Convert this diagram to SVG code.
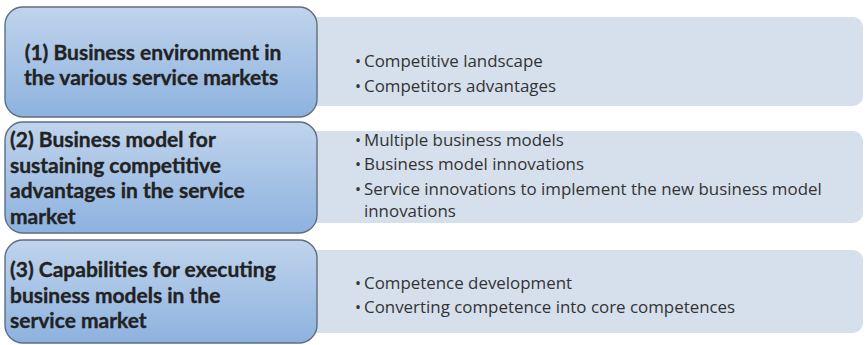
<svg xmlns="http://www.w3.org/2000/svg" width="868" height="345" viewBox="0 0 868 345">
  <defs>
    <linearGradient id="boxFill" x1="0" y1="0" x2="0" y2="1">
      <stop offset="0" stop-color="#c0d4ec"/>
      <stop offset="1" stop-color="#8db2df"/>
    </linearGradient>
    <style>
      .head { fill: url(#boxFill); stroke: #5f6e7e; stroke-width: 1.4; }
      .panel { fill: #d6e0ed; }
      .htxt { font-family: Lato, "Liberation Sans", sans-serif; font-weight: bold; font-size: 21px; fill: #222; stroke: #222; stroke-width: 0.35; }
      .btxt { font-family: "Open Sans", "Liberation Sans", sans-serif; font-size: 16.9px; fill: #333; }
      .dot { font-size: 16px; }
    </style>
  </defs>

  <!-- row 1 -->
  <g id="row1-detail">
    <rect class="panel" x="305" y="17" width="558" height="89" rx="10"/>
    <text class="btxt" y="67"><tspan class="dot" x="355">•</tspan><tspan x="364">Competitive landscape</tspan></text>
    <text class="btxt" y="92"><tspan class="dot" x="355">•</tspan><tspan x="364">Competitors advantages</tspan></text>
  </g>
  <g id="row1-head">
    <rect class="head" x="5" y="7" width="312" height="110" rx="18"/>
    <text class="htxt" x="153" y="60" text-anchor="middle">(1) Business environment in</text>
    <text class="htxt" x="151" y="85" text-anchor="middle">the various service markets</text>
  </g>

  <!-- row 2 -->
  <g id="row2-detail">
    <rect class="panel" x="305" y="131" width="558" height="92" rx="10"/>
    <text class="btxt" y="146"><tspan class="dot" x="355">•</tspan><tspan x="364">Multiple business models</tspan></text>
    <text class="btxt" y="170"><tspan class="dot" x="355">•</tspan><tspan x="364">Business model innovations</tspan></text>
    <text class="btxt" y="195"><tspan class="dot" x="355">•</tspan><tspan x="364">Service innovations to implement the new business model</tspan></text>
    <text class="btxt" x="364" y="217">innovations</text>
  </g>
  <g id="row2-head">
    <rect class="head" x="5" y="122" width="312" height="111" rx="18"/>
    <text class="htxt" x="10" y="147">(2) Business model for</text>
    <text class="htxt" x="10" y="172.5">sustaining competitive</text>
    <text class="htxt" x="10" y="198">advantages in the service</text>
    <text class="htxt" x="10" y="223.5">market</text>
  </g>

  <!-- row 3 -->
  <g id="row3-detail">
    <rect class="panel" x="305" y="250" width="558" height="83" rx="10"/>
    <text class="btxt" y="289"><tspan class="dot" x="355">•</tspan><tspan x="364">Competence development</tspan></text>
    <text class="btxt" y="313"><tspan class="dot" x="355">•</tspan><tspan x="364">Converting competence into core competences</tspan></text>
  </g>
  <g id="row3-head">
    <rect class="head" x="5" y="240" width="312" height="103" rx="18"/>
    <text class="htxt" x="10" y="277">(3) Capabilities for executing</text>
    <text class="htxt" x="10" y="303">business models in the</text>
    <text class="htxt" x="10" y="328">service market</text>
  </g>
</svg>
